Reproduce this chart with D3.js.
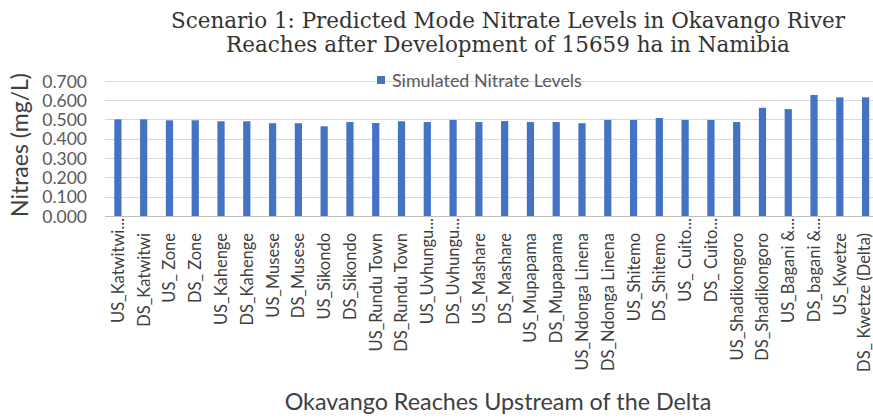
<!DOCTYPE html>
<html><head><meta charset="utf-8">
<script src="https://cdn.jsdelivr.net/npm/d3@7"></script>
<style>html,body{margin:0;padding:0;background:#fff;overflow:hidden}</style>
</head><body>
<svg id="c" width="873" height="418"></svg>
<script>
const categories = ["US_Katwitwi...","DS_Katwitwi","US_ Zone","DS_ Zone","US_Kahenge","DS_Kahenge","US_Musese","DS_Musese","US_Sikondo","DS_Sikondo","US_Rundu Town","DS_Rundu Town","US_Uvhungu...","DS_Uvhungu...","US_Mashare","DS_Mashare","US_Mupapama","DS_Mupapama","US_Ndonga Linena","DS_Ndonga Linena","US_Shitemo","DS_Shitemo","US_ Cuito...","DS_ Cuito...","US_Shadikongoro","DS_Shadikongoro","US_Bagani &...","DS_bagani &...","US_Kwetze","DS_ Kwetze (Delta)"];
const nitrate = [0.500,0.500,0.495,0.495,0.490,0.490,0.480,0.480,0.464,0.486,0.481,0.490,0.486,0.497,0.486,0.491,0.486,0.486,0.480,0.497,0.497,0.507,0.497,0.497,0.486,0.560,0.553,0.626,0.614,0.614];
const yTicks = [0,0.1,0.2,0.3,0.4,0.5,0.6,0.7];
const titleLines = ["Scenario 1: Predicted Mode Nitrate Levels in Okavango River","Reaches after Development of 15659 ha in Namibia"];
const seriesName = "Simulated Nitrate Levels";
const yTitle = "Nitraes (mg/L)";
const xTitle = "Okavango Reaches Upstream of the Delta";

(function(){
const svg = d3.select("#c");
const pl = 105, pr = 878.5, pt = 80.7, pb = 216;
const x = d3.scaleBand().domain(categories).range([pl, pr]).paddingInner(0.72).paddingOuter(0.36);
const y = d3.scaleLinear().domain([0, 0.7]).range([pb, pt]);
const sans = "Lato, 'Open Sans', sans-serif";

function fit(sel, w) {
  const n = sel.node(); const fs = parseFloat(sel.attr("font-size"));
  const L = n.getComputedTextLength();
  if (L > 0) sel.attr("font-size", fs * w / L);
}

svg.append("g").selectAll("line").data(yTicks).join("line")
  .attr("x1", pl).attr("x2", pr)
  .attr("y1", d => Math.round(y(d)) + 0.5).attr("y2", d => Math.round(y(d)) + 0.5)
  .attr("stroke", d => d === 0 ? "#bfbfbf" : "#d9d9d9").attr("stroke-width", 1);

const yAxis = svg.append("g").attr("transform", `translate(87,0)`)
  .call(d3.axisLeft(y).tickValues(yTicks).tickFormat(d3.format(".3f")).tickSize(0).tickPadding(0));
yAxis.select(".domain").remove();
yAxis.selectAll("text").attr("font-family", sans).attr("font-size", 17.5).attr("fill", "#595959").attr("dy", "0.36em");

svg.append("g").selectAll("rect").data(nitrate).join("rect")
  .attr("x", (d, i) => x(categories[i]))
  .attr("width", x.bandwidth())
  .attr("y", d => y(d))
  .attr("height", d => y(0) - y(d))
  .attr("fill", "#4472c4");

svg.append("g").selectAll("text").data(categories).join("text")
  .attr("transform", d => `translate(${Math.min(x(d) + x.bandwidth() / 2, 864)},${pb + (d.endsWith("...") ? 2 : 17)}) rotate(-90)`)
  .attr("text-anchor", "end").attr("dy", "0.36em")
  .attr("font-family", sans).attr("font-size", 16.5).attr("fill", "#404040")
  .style("white-space", "pre")
  .text(d => d);

svg.append("rect").attr("x", 377).attr("y", 76).attr("width", 8).attr("height", 8).attr("fill", "#4472c4");
const lt = svg.append("text").attr("x", 392).attr("y", 86.5).attr("font-family", sans).attr("font-size", 16).attr("fill", "#595959").text(seriesName);
fit(lt, 190);

const serif = "'DejaVu Serif Condensed', 'Liberation Serif', serif";
let ratio = 1;
titleLines.forEach((t, i) => {
  const s = svg.append("text").attr("x", 508).attr("y", 28 + i * 24).attr("text-anchor", "middle")
    .attr("font-family", serif).attr("font-size", 22).attr("fill", "#333333").text(t);
  const L = s.node().getComputedTextLength();
  if (i === 0) ratio = 674 / L;
  s.attr("textLength", L * ratio).attr("lengthAdjust", "spacingAndGlyphs");
});

const yt = svg.append("text").attr("transform", "translate(28,145) rotate(-90)").attr("text-anchor", "middle")
  .attr("font-family", sans).attr("font-size", 21).attr("fill", "#404040").text(yTitle);
fit(yt, 144);

const xt = svg.append("text").attr("x", 498).attr("y", 410).attr("text-anchor", "middle")
  .attr("font-family", sans).attr("font-size", 20).attr("fill", "#404040").text(xTitle);
fit(xt, 427);
})();
</script>
</body></html>
